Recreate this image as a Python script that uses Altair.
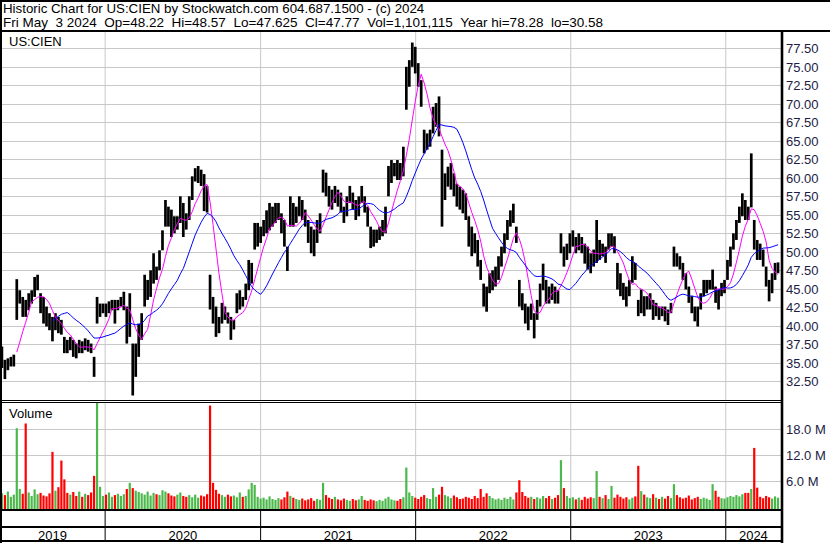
import altair as alt
import pandas as pd

# Weekly high / low (USD), one bar per week ending Friday, 2019-05-03 .. 2024-05-03
week_high = [
    37.2, 35.4, 35.6, 35.8, 36.1, 46.3, 44.8, 43.9, 43.5, 44.4,
    44.8, 46.6, 46.9, 44.4, 43.9, 42.6, 41.7, 41.2, 41.7, 41.2,
    40.8, 38.5, 38.1, 38.5, 38.1, 37.6, 38.1, 37.9, 38.3, 38.1,
    37.6, 35.8, 43.9, 43.0, 43.0, 43.0, 43.3, 43.5, 43.5, 43.5,
    43.9, 44.6, 42.6, 44.4, 37.6, 37.6, 40.3, 41.7, 46.9, 46.2,
    47.5, 49.8, 48.0, 50.2, 52.9, 57.0, 56.1, 55.7, 54.8, 54.8,
    57.5, 56.6, 55.2, 57.5, 60.2, 61.3, 61.6, 61.1, 60.5, 58.9,
    46.9, 43.9, 42.6, 41.2, 43.1, 42.6, 41.8, 41.2, 40.8, 44.4,
    44.8, 43.9, 45.7, 48.9, 48.5, 53.9, 53.9, 53.4, 54.3, 55.6,
    56.6, 56.1, 56.6, 56.6, 55.2, 54.3, 50.7, 57.5, 56.6, 56.1,
    57.5, 57.0, 55.7, 54.3, 53.4, 53.0, 54.3, 55.2, 61.1, 60.7,
    58.9, 58.4, 58.9, 58.4, 58.0, 56.1, 57.5, 58.9, 58.0, 57.0,
    57.5, 58.9, 57.5, 56.1, 53.4, 53.0, 53.0, 53.4, 54.3, 56.1,
    61.6, 62.4, 62.0, 62.4, 62.0, 64.2, 75.0, 75.9, 78.28, 77.7,
    75.5, 73.2, 66.5, 66.0, 66.5, 69.6, 70.1, 71.0, 63.8, 60.6,
    61.5, 62.0, 60.6, 59.2, 58.8, 58.4, 57.9, 54.8, 53.4, 52.5,
    51.6, 48.9, 45.7, 45.3, 47.1, 47.5, 48.0, 49.4, 50.7, 52.5,
    54.3, 55.6, 56.5, 53.4, 46.2, 44.4, 43.0, 42.6, 43.0, 41.7,
    43.5, 45.7, 48.4, 46.2, 45.3, 45.7, 45.3, 44.8, 52.5, 50.7,
    51.1, 52.5, 52.9, 52.0, 52.5, 52.0, 51.1, 50.7, 49.8, 50.3,
    54.3, 51.6, 51.1, 50.7, 52.5, 52.5, 52.1, 48.5, 47.1, 45.8,
    45.3, 46.2, 49.4, 48.5, 43.5, 44.9, 44.0, 44.0, 44.4, 43.5,
    43.1, 42.6, 42.6, 42.6, 42.2, 43.1, 50.7, 49.8, 49.4, 48.5,
    47.1, 45.3, 44.0, 42.6, 42.6, 44.4, 46.2, 46.2, 46.2, 47.6,
    45.3, 44.9, 45.8, 46.2, 48.9, 50.7, 52.5, 54.3, 56.1, 57.9,
    57.0, 56.1, 63.3, 54.3, 51.6, 51.1, 50.3, 48.0, 46.2, 47.1,
    48.5, 48.57,
]
week_low = [
    34.3, 32.8, 34.0, 34.5, 34.5, 40.8, 43.0, 41.2, 41.2, 42.1,
    43.0, 43.9, 44.8, 41.7, 40.3, 39.9, 39.4, 37.9, 39.4, 39.0,
    38.8, 36.3, 36.3, 36.7, 35.8, 35.6, 36.3, 36.3, 36.7, 36.5,
    36.3, 33.1, 40.3, 41.2, 41.7, 41.2, 41.7, 42.1, 40.3, 42.1,
    42.6, 42.1, 37.6, 38.5, 30.58, 33.1, 35.8, 38.1, 42.6, 43.5,
    43.9, 45.7, 46.2, 47.5, 50.2, 53.4, 53.4, 52.0, 52.5, 53.0,
    53.9, 52.0, 53.0, 54.3, 57.0, 59.5, 59.3, 58.9, 55.5, 55.3,
    42.2, 40.3, 38.5, 39.0, 40.3, 40.8, 40.3, 38.1, 39.5, 41.7,
    42.2, 42.6, 43.5, 44.8, 45.7, 50.3, 50.7, 51.2, 52.1, 52.5,
    52.9, 53.4, 53.9, 54.3, 52.5, 50.7, 47.4, 53.4, 53.4, 53.9,
    54.8, 54.3, 53.4, 51.2, 49.8, 49.4, 51.2, 52.5, 58.0, 57.5,
    56.1, 55.7, 56.6, 56.1, 55.3, 53.9, 54.8, 56.6, 55.7, 54.3,
    54.8, 56.6, 55.3, 53.4, 50.5, 50.7, 51.2, 51.6, 52.1, 52.5,
    57.5, 59.3, 60.2, 59.7, 59.7, 60.2, 69.2, 72.3, 75.0, 74.1,
    72.3, 69.6, 63.3, 63.8, 64.2, 66.0, 66.9, 65.6, 53.4, 57.0,
    58.8, 58.4, 57.5, 56.1, 55.7, 55.2, 54.3, 50.7, 49.4, 49.8,
    48.0, 46.2, 42.6, 41.9, 44.4, 44.8, 45.3, 46.2, 48.0, 49.8,
    51.6, 53.4, 53.9, 51.2, 42.6, 42.1, 40.3, 39.4, 40.8, 38.3,
    40.8, 42.6, 44.8, 43.0, 43.0, 43.5, 43.0, 43.0, 49.8, 48.0,
    48.9, 49.8, 50.7, 49.8, 50.2, 49.8, 48.4, 47.6, 47.1, 48.0,
    48.5, 48.9, 49.4, 48.5, 50.3, 50.7, 49.8, 44.9, 44.0, 43.5,
    42.6, 44.0, 45.8, 46.2, 41.3, 41.7, 41.3, 42.2, 42.2, 40.8,
    41.3, 40.8, 41.3, 40.6, 40.1, 41.7, 48.0, 48.0, 47.6, 46.2,
    44.9, 43.1, 41.7, 40.6, 39.9, 42.2, 44.0, 44.4, 44.9, 44.9,
    43.1, 42.2, 44.0, 44.4, 46.2, 48.0, 50.3, 51.6, 53.9, 54.8,
    54.3, 54.3, 56.0, 50.3, 48.9, 48.9, 48.0, 45.3, 43.3, 44.4,
    46.2, 47.1,
]
# Peak daily volume within each week, millions of shares
week_volume = [
    3.2, 2.8, 3.6, 2.4, 2.9, 18.1, 4.2, 3.1, 19.2, 3.4,
    2.6, 4.1, 3.0, 3.3, 2.7, 2.5, 3.2, 12.7, 3.8, 4.6,
    10.7, 6.4, 3.3, 2.9, 3.5, 2.6, 3.6, 2.4, 3.1, 2.8,
    3.4, 7.2, 24.0, 4.7, 2.6, 2.9, 3.4, 2.4, 2.8, 3.1,
    2.6, 3.0, 4.2, 5.6, 4.4, 3.8, 3.5, 3.2, 2.9, 3.6,
    2.7, 3.3, 3.0, 2.8, 3.9, 3.6, 3.2, 2.7, 2.5, 2.9,
    3.4, 2.6, 2.4, 2.8, 2.3, 2.9, 2.2, 2.7, 2.5, 3.0,
    23.3, 5.6, 4.0, 3.1, 2.8, 2.4, 2.9, 2.5, 2.7, 2.3,
    3.4, 2.4, 2.6, 4.1, 5.6, 5.1, 2.4, 2.0, 2.2, 1.8,
    2.5, 1.9, 1.7, 2.1, 1.8, 2.3, 3.6, 2.6, 2.2, 1.9,
    1.7, 2.0, 1.6, 1.8, 2.1, 1.5, 1.9, 1.7, 5.6, 2.8,
    2.2, 1.9, 2.4, 1.8, 1.6, 2.0, 1.7, 1.5, 1.9, 1.6,
    1.8, 2.6, 1.7, 1.5, 1.8, 1.6, 1.4, 1.7, 1.5, 2.0,
    2.4, 1.8, 1.6, 1.5, 1.9, 2.3, 9.1, 3.4, 2.6, 2.2,
    1.9, 2.4, 2.8, 2.1, 1.9, 4.4, 2.4, 2.9, 4.7, 2.8,
    2.5, 2.1, 2.7, 2.3, 1.9, 2.0, 2.4, 2.2, 1.9, 2.6,
    2.1, 4.2, 2.4, 3.2, 2.6, 2.1, 1.8, 2.0, 1.7, 2.2,
    1.9, 2.4, 1.8, 3.4, 6.2, 3.5, 2.6, 2.2, 2.4, 1.9,
    2.3, 2.0, 2.6, 2.1, 2.6, 1.9, 2.2, 2.8, 10.8, 4.4,
    2.6, 2.1, 2.3, 1.8, 2.2, 1.7, 2.4, 2.0, 2.3, 2.1,
    8.3, 2.4, 2.1, 2.8, 1.9, 4.9, 2.2, 2.9, 2.4, 2.0,
    2.3, 1.8, 2.2, 2.5, 9.5, 3.7, 2.9, 2.3, 2.1, 3.0,
    2.2, 1.9, 2.4, 2.0, 2.6, 2.1, 5.3, 2.8, 2.3, 2.0,
    2.2, 2.7, 1.8, 2.1, 2.4, 1.9, 2.2, 2.0, 1.7, 5.3,
    3.8, 2.4, 2.1, 2.0, 2.3, 2.6, 2.4, 2.8, 2.5, 3.0,
    3.3, 3.3, 4.2, 13.6, 4.5, 2.4, 2.1, 2.6, 2.3, 2.0,
    2.5, 2.2,
]

price_ticks = [32.5, 35.0, 37.5, 40.0, 42.5, 45.0, 47.5, 50.0, 52.5, 55.0,
               57.5, 60.0, 62.5, 65.0, 67.5, 70.0, 72.5, 75.0, 77.5]
volume_ticks = [6.0, 12.0, 18.0]
volume_tick_labels = ["6.0 M", "12.0 M", "18.0 M"]
year_names = ["2019", "2020", "2021", "2022", "2023", "2024"]
year_starts = ["2020-01-01", "2021-01-01", "2022-01-01", "2023-01-01", "2024-01-01"]

header_line1 = "Historic Chart for US:CIEN by Stockwatch.com 604.687.1500 - (c) 2024"
header_line2 = ("Fri May  3 2024  Op=48.22  Hi=48.57  Lo=47.625  Cl=47.77  "
                "Vol=1,101,115  Year hi=78.28  lo=30.58")

FONT = "Liberation Sans"
GRID = "#c8c8c8"
UP = "#4cb84c"
DOWN = "#ff0000"
LABEL = "#1c1c44"

assert len(week_high) == len(week_low) == len(week_volume) == 262

# ---- tables -------------------------------------------------------------
bars = pd.DataFrame({
    "date": pd.date_range("2019-05-03", periods=len(week_high), freq="7D"),
    "high": week_high,
    "low": week_low,
    "volume": week_volume,
})
bars["mid"] = (bars["high"] + bars["low"]) / 2
bars["dir"] = ["up" if d >= 0 else "down" for d in bars["mid"].diff().fillna(0)]

axis_start = pd.Timestamp("2019-04-28 12:00")
axis_end = pd.Timestamp("2024-05-10")
bounds = [axis_start] + [pd.Timestamp(s) for s in year_starts] + [axis_end]
year_labels = pd.DataFrame({
    "year": year_names,
    "date": [bounds[k] + (bounds[k + 1] - bounds[k]) / 2 for k in range(len(year_names))],
})
year_lines = pd.DataFrame({"date": pd.to_datetime(year_starts)})
price_grid_df = pd.DataFrame({"p": price_ticks})
vol_grid_df = pd.DataFrame({"v": volume_ticks, "label": volume_tick_labels})
one = pd.DataFrame({"k": [0]})


def nbsp(s):
    return s.replace("  ", " \u00a0")


# ---- scales -------------------------------------------------------------
x_scale = alt.Scale(
    domain=[alt.DateTime(year=2019, month=4, date=28, hours=12),
            alt.DateTime(year=2024, month=5, date=10)],
    range=[0, 781],
)
PRICE_Y = alt.Scale(domain=[29.97, 79.84], range=[400, 31], zero=False, nice=False)
# same mapping, snapped to whole pixels so the 1px grid lines stay crisp
PRICE_GRID_Y = alt.Scale(domain=[29.97, 79.84], range=[400, 31], zero=False, nice=False,
                         round=True)
VOL_Y = alt.Scale(domain=[0, 24], range=[507.3, 402.5], zero=False, nice=False)
VOL_GRID_Y = alt.Scale(domain=[0, 24], range=[507.3, 402.5], zero=False, nice=False,
                       round=True)
X = alt.X("date:T", scale=x_scale, axis=None)

# ---- grid ---------------------------------------------------------------
price_grid = alt.Chart(price_grid_df).mark_rule(
    color=GRID, strokeWidth=1, yOffset=0.5).encode(
    y=alt.Y("p:Q", scale=PRICE_GRID_Y, axis=None), x=alt.value(2), x2=alt.value(781))
vol_grid = alt.Chart(vol_grid_df).mark_rule(
    color=GRID, strokeWidth=1, yOffset=0.5).encode(
    y=alt.Y("v:Q", scale=VOL_GRID_Y, axis=None), x=alt.value(2), x2=alt.value(781))
year_grid_price = alt.Chart(year_lines).mark_rule(color=GRID, strokeWidth=1).encode(
    x=X, y=alt.value(32), y2=alt.value(400))
year_grid_vol = alt.Chart(year_lines).mark_rule(color=GRID, strokeWidth=1).encode(
    x=X, y=alt.value(403), y2=alt.value(509))
year_sep = alt.Chart(year_lines).mark_rule(color="black", strokeWidth=1).encode(
    x=X, y=alt.value(510), y2=alt.value(541))

# ---- price bars and moving averages --------------------------------------
price_bars = alt.Chart(bars).mark_rule(color="black", strokeWidth=2.7).encode(
    x=X, y=alt.Y("low:Q", scale=PRICE_Y, axis=None), y2="high:Q")


def moving_average(weeks, color):
    return (
        alt.Chart(bars)
        .transform_window(
            window=[alt.WindowFieldDef(op="mean", field="mid", **{"as": "ma"}),
                    alt.WindowFieldDef(op="count", **{"as": "n"})],
            frame=[-(weeks - 1), 0],
            sort=[alt.SortField(field="date")],
        )
        .transform_filter(f"datum.n == {weeks}")
        .mark_line(color=color, strokeWidth=1)
        .encode(x=X, y=alt.Y("ma:Q", scale=PRICE_Y, axis=None))
    )


ma_short = moving_average(6, "#ff00ff")
ma_long = moving_average(18, "#0000ff")

# ---- volume -------------------------------------------------------------
vol_bars = alt.Chart(bars).mark_rule(strokeWidth=2.2).encode(
    x=X,
    y=alt.Y("volume:Q", scale=VOL_Y, axis=None),
    y2=alt.value(509),
    color=alt.Color("dir:N", scale=alt.Scale(domain=["up", "down"], range=[UP, DOWN]),
                    legend=None),
)

# ---- labels -------------------------------------------------------------
price_labels = alt.Chart(price_grid_df).mark_text(
    align="left", baseline="middle", font=FONT, fontSize=13, color=LABEL, dy=1).encode(
    x=alt.value(786), y=alt.Y("p:Q", scale=PRICE_Y, axis=None),
    text=alt.Text("p:Q", format=".2f"))
vol_labels = alt.Chart(vol_grid_df).mark_text(
    align="left", baseline="middle", font=FONT, fontSize=13, color=LABEL, dy=1).encode(
    x=alt.value(786), y=alt.Y("v:Q", scale=VOL_Y, axis=None), text="label:N")
year_text = alt.Chart(year_labels).mark_text(
    align="center", baseline="alphabetic", font=FONT, fontSize=13, color="black").encode(
    x=X, y=alt.value(540), text="year:N")


def caption(text, x, y, size):
    return alt.Chart(pd.DataFrame({"t": [nbsp(text)]})).mark_text(
        align="left", baseline="alphabetic", font=FONT, fontSize=size, color="black"
    ).encode(x=alt.value(x), y=alt.value(y), text="t:N")


captions = [
    caption(header_line1, 3, 13, 13.3),
    caption(header_line2, 3, 27, 13.5),
    caption("US:CIEN", 9, 46, 13),
    caption("Volume", 9, 418, 13),
]


# ---- frame --------------------------------------------------------------
def hline(y, x1, x2, w):
    return alt.Chart(one).mark_rule(color="black", strokeWidth=w).encode(
        y=alt.value(y), x=alt.value(x1), x2=alt.value(x2))


def vline(x, y1, y2, w):
    return alt.Chart(one).mark_rule(color="black", strokeWidth=w).encode(
        x=alt.value(x), y=alt.value(y1), y2=alt.value(y2))


frame = [
    hline(1, 0, 830, 2),
    hline(31, 0, 830, 2),
    hline(400.5, 0, 782, 1),
    hline(402.5, 0, 782, 1),
    hline(510, 0, 782, 2),
    hline(527, 0, 782, 2),
    hline(541, 0, 782, 2),
    vline(1, 0, 543, 2),
    vline(782, 31, 543, 2.6),
]

chart = (
    alt.layer(
        price_grid, vol_grid, year_grid_price, year_grid_vol,
        vol_bars, price_bars, ma_short, ma_long,
        price_labels, vol_labels, year_sep, year_text,
        *captions, *frame,
    )
    .resolve_scale(y="independent")
    .properties(width=830, height=543, padding=0,
                autosize=alt.AutoSizeParams(type="none"), background="white")
    .configure_view(stroke=None)
)

chart.save("out.html", embed_options={"renderer": "svg", "actions": False})
